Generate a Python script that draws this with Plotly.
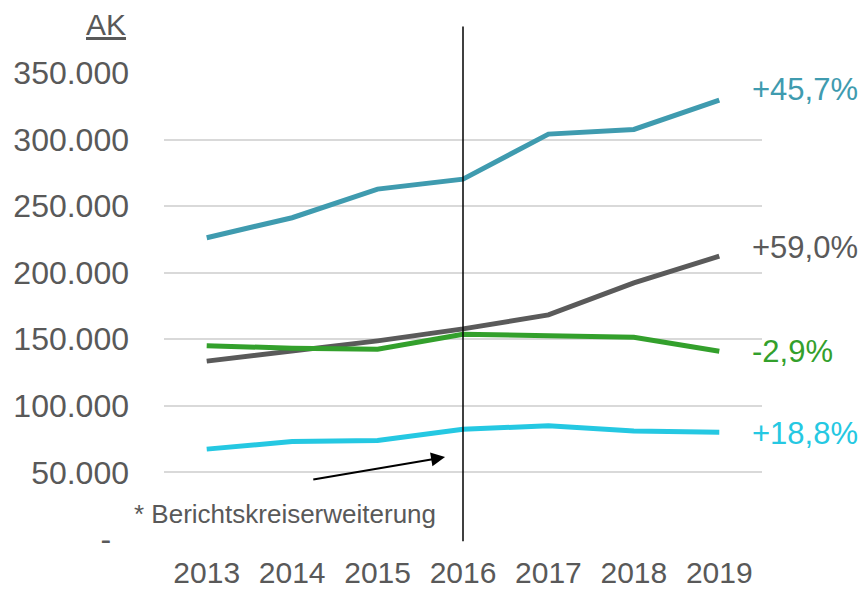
import plotly.graph_objects as go

# Beschäftigte (AK) je Bereich, 2013–2019
years = [2013, 2014, 2015, 2016, 2017, 2018, 2019]
teal_values = [226300, 241300, 262800, 270300, 304100, 307600, 329700]
grey_values = [133600, 141300, 148800, 157800, 168300, 192300, 212400]
green_values = [145200, 143300, 142500, 153800, 152700, 151500, 141000]
cyan_values = [67500, 73200, 74000, 82500, 85000, 81200, 80200]

change_labels = ["+45,7%", "+59,0%", "-2,9%", "+18,8%"]
label_yshift = [11, 9, 0, -1]

y_tickvals = [0, 50000, 100000, 150000, 200000, 250000, 300000, 350000]
y_ticktext = ["-\u00a0\u00a0", "50.000", "100.000", "150.000", "200.000",
              "250.000", "300.000", "350.000"]

break_year = 2016
note_text = "* Berichtskreiserweiterung"

colors = ["#3F9BAF", "#5A5A5A", "#33A02C", "#25C8E2"]
series = [teal_values, grey_values, green_values, cyan_values]
text_grey = "#595959"
font_family = "Liberation Sans, Arial, sans-serif"

fig = go.Figure()
for vals, col in zip(series, colors):
    fig.add_trace(go.Scatter(
        x=years, y=vals, mode="lines",
        line=dict(color=col, width=5),
        showlegend=False, hoverinfo="skip",
    ))

# percentage change labels at the right end of each line
for vals, col, lab, ys in zip(series, colors, change_labels, label_yshift):
    fig.add_annotation(
        x=years[-1], y=vals[-1], text=lab, showarrow=False,
        xanchor="left", yanchor="middle", xshift=31, yshift=ys,
        font=dict(size=31, color=col, family=font_family),
    )

# vertical marker for the 2016 reporting change
fig.add_shape(
    type="line", xref="x", yref="paper",
    x0=break_year, x1=break_year, y0=-0.005, y1=1.10,
    line=dict(color="black", width=1.5),
)

# arrow pointing at the break
fig.add_annotation(
    x=2015.79, y=61500, ax=2014.23, ay=44500,
    xref="x", yref="y", axref="x", ayref="y",
    text="", showarrow=True, arrowhead=2, arrowsize=1.4,
    arrowwidth=2, arrowcolor="black",
)

fig.add_annotation(
    x=2013.92, y=19000, text=note_text, showarrow=False,
    xanchor="center", yanchor="middle",
    font=dict(size=26, color=text_grey, family=font_family),
)

# unit label above the y axis
fig.add_annotation(
    xref="paper", yref="paper", x=-0.0602, y=1.104,
    text="<u>AK</u>", showarrow=False,
    xanchor="right", yanchor="middle",
    font=dict(size=30, color=text_grey, family=font_family),
)

fig.update_layout(
    width=865, height=591,
    margin=dict(l=164, r=103, t=73, b=52),
    paper_bgcolor="white", plot_bgcolor="white",
    font=dict(family=font_family, color=text_grey),
)
fig.update_xaxes(
    range=[2012.5, 2019.5], tickvals=years,
    ticktext=[str(y) for y in years],
    tickfont=dict(size=30, color=text_grey),
    showgrid=False, zeroline=False, showline=False,
    ticks="", ticklabelstandoff=13, automargin=False,
)
fig.update_yaxes(
    range=[0, 350000], tickvals=y_tickvals, ticktext=y_ticktext,
    tickfont=dict(size=32, color=text_grey),
    showgrid=True, gridcolor="#D9D9D9", gridwidth=1.5,
    zeroline=False, showline=False, ticks="", ticklabelstandoff=34,
    automargin=False,
)

fig.write_html("out.html")
